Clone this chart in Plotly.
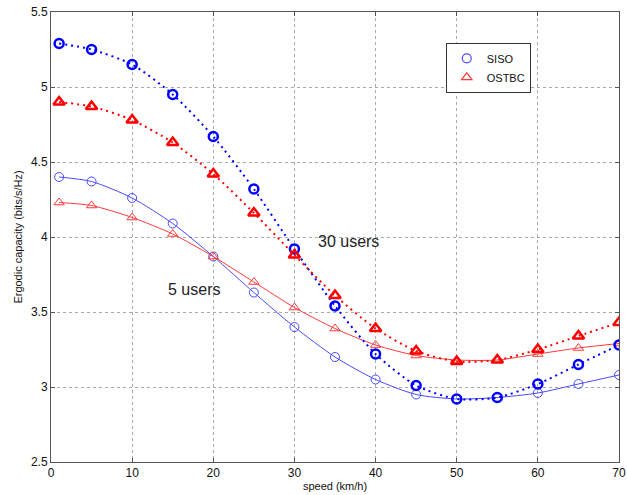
import plotly.graph_objects as go

speed = [1, 5, 10, 15, 20, 25, 30, 35, 40, 45, 50, 55, 60, 65, 70]
siso_30 = [5.29, 5.25, 5.15, 4.95, 4.67, 4.32, 3.92, 3.54, 3.22, 3.01, 2.92, 2.93, 3.02, 3.15, 3.28]
ostbc_30 = [4.90, 4.87, 4.78, 4.63, 4.42, 4.16, 3.88, 3.61, 3.39, 3.24, 3.17, 3.18, 3.25, 3.34, 3.43]
siso_5 = [4.40, 4.37, 4.26, 4.09, 3.87, 3.63, 3.40, 3.20, 3.05, 2.95, 2.92, 2.93, 2.96, 3.02, 3.08]
ostbc_5 = [4.23, 4.21, 4.13, 4.02, 3.87, 3.70, 3.53, 3.39, 3.28, 3.21, 3.18, 3.18, 3.22, 3.26, 3.29]

BLUE = "#0000ff"
RED = "#ff0000"
FONT = "Liberation Sans, Arial, sans-serif"

fig = go.Figure()

fig.add_trace(go.Scatter(x=speed, y=siso_5, mode="lines+markers", showlegend=False,
                         line=dict(color="#4a4aff", width=1, shape="spline", smoothing=0.7),
                         marker=dict(symbol="circle-open", size=9, color="#4a4aff", line=dict(width=1))))
fig.add_trace(go.Scatter(x=speed, y=ostbc_5, mode="lines+markers", showlegend=False,
                         line=dict(color="#ff3a3a", width=1, shape="spline", smoothing=0.7),
                         marker=dict(symbol="triangle-up-open", size=9, color="#ff3a3a", line=dict(width=1))))
fig.add_trace(go.Scatter(x=speed, y=siso_30, mode="lines+markers", showlegend=False,
                         line=dict(color=BLUE, width=2, dash="2px,4px", shape="spline", smoothing=0.7),
                         marker=dict(symbol="circle-open", size=9, color=BLUE, line=dict(width=2.5))))
fig.add_trace(go.Scatter(x=speed, y=ostbc_30, mode="lines+markers", showlegend=False,
                         line=dict(color=RED, width=2, dash="2px,4px", shape="spline", smoothing=0.7),
                         marker=dict(symbol="triangle-up-open", size=10, color=RED, line=dict(width=2.5))))

# legend entries
fig.add_trace(go.Scatter(x=[None], y=[None], mode="markers", name="SISO",
                         marker=dict(symbol="circle-open", size=9, color="#4a4aff", line=dict(width=1.2))))
fig.add_trace(go.Scatter(x=[None], y=[None], mode="markers", name="OSTBC",
                         marker=dict(symbol="triangle-up-open", size=9, color="#ff3a3a", line=dict(width=1.2))))

fig.add_annotation(x=32.6, y=3.97, text="30 users", showarrow=False, xanchor="left",
                   font=dict(family=FONT, size=16, color="#222"))
fig.add_annotation(x=14.2, y=3.65, text="5 users", showarrow=False, xanchor="left",
                   font=dict(family=FONT, size=16, color="#222"))

axis_common = dict(showgrid=True, gridcolor="#aaa", griddash="dot", gridwidth=1,
                   showline=True, linecolor="#555", linewidth=1, mirror="ticks",
                   ticks="inside", ticklen=4, tickcolor="#555", zeroline=False,
                   automargin=False,
                   tickfont=dict(family=FONT, size=12, color="#111"))

fig.update_xaxes(range=[0, 70], dtick=10, ticklabeloverflow="allow",
                 title=dict(text="speed (km/h)", standoff=2,
                 font=dict(family=FONT, size=11, color="#111")), **axis_common)
fig.update_yaxes(range=[2.5, 5.5], dtick=0.5, title=dict(text="Ergodic capacity (bits/s/Hz)", standoff=6,
                 font=dict(family=FONT, size=11, color="#111")), **axis_common)

fig.update_layout(
    width=627, height=495,
    margin=dict(l=51, r=8, t=12, b=33),
    paper_bgcolor="white", plot_bgcolor="white",
    legend=dict(x=0.695, y=0.876, xanchor="left", yanchor="middle",
                bgcolor="white", bordercolor="#333", borderwidth=1,
                font=dict(family=FONT, size=11, color="#111"),
                itemwidth=30, tracegroupgap=0),
)

fig.write_html("out.html")
